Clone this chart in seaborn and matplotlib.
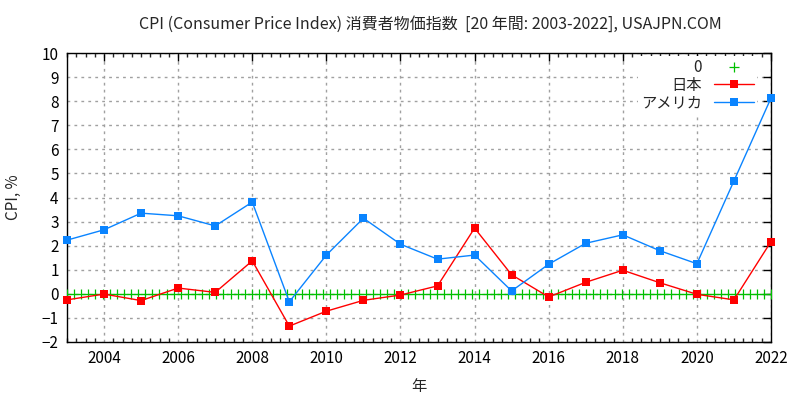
import numpy as np
import pandas as pd
import matplotlib
matplotlib.use("Agg")
import matplotlib.pyplot as plt
import seaborn as sns
from matplotlib.ticker import MultipleLocator

# data
years = list(range(2003, 2023))
japan_cpi = [-0.25, -0.01, -0.28, 0.24, 0.06, 1.37, -1.34, -0.72, -0.27, -0.05,
             0.33, 2.73, 0.79, -0.13, 0.48, 0.98, 0.46, -0.02, -0.25, 2.17]
usa_cpi = [2.23, 2.66, 3.35, 3.24, 2.82, 3.81, -0.33, 1.61, 3.14, 2.06,
           1.44, 1.61, 0.12, 1.23, 2.10, 2.45, 1.79, 1.25, 4.69, 8.13]
# the "0" reference function, sampled like gnuplot does (100 samples)
zero_x = np.linspace(2003, 2022, 100)
zero_y = np.zeros_like(zero_x)

series_names = ["日本", "アメリカ"]
title = "CPI (Consumer Price Index) 消費者物価指数  [20 年間: 2003-2022], USAJPN.COM"

sns.set_theme(style="white")
plt.rcParams["font.family"] = ["Noto Sans CJK JP", "DejaVu Sans"]
plt.rcParams["axes.unicode_minus"] = True

df = pd.DataFrame({
    "year": years * 2,
    "cpi": japan_cpi + usa_cpi,
    "country": [series_names[0]] * len(years) + [series_names[1]] * len(years),
})

fig = plt.figure(figsize=(8, 4), dpi=100)
ax = fig.add_axes([67 / 800, 1 - 342 / 400, (771 - 67) / 800, (342 - 53) / 400])

ax.plot(zero_x, zero_y, linestyle="none", marker="+", color="#00c000",
        markersize=7, markeredgewidth=0.9, label="0", zorder=3)
sns.lineplot(data=df, x="year", y="cpi", hue="country",
             palette={"日本": "#ff0000", "アメリカ": "#0a84ff"},
             marker="s", markersize=5.8, markeredgewidth=0, linewidth=1,
             ax=ax, zorder=4, legend=False)
for line, name in zip(ax.get_lines()[1:], series_names):
    line.set_label(name)
    line.set_clip_on(False)

ax.set_xlim(2003, 2022)
ax.set_ylim(-2, 10)
ax.xaxis.set_major_locator(MultipleLocator(2))
ax.xaxis.set_minor_locator(MultipleLocator(0.25))
ax.yaxis.set_major_locator(MultipleLocator(1))
ax.tick_params(axis="both", which="major", direction="in", length=6, width=1,
               top=True, right=True, labelsize=11, colors="black", pad=6)
ax.tick_params(axis="x", which="minor", direction="in", length=3, width=1,
               top=True, bottom=True)
ax.grid(True, which="major", color="#a0a0a0", linestyle=(0, (2, 3)), linewidth=1)
for s in ax.spines.values():
    s.set_color("black")
    s.set_linewidth(1)

ax.set_xlabel("年", fontsize=11, labelpad=8)
ax.set_ylabel("CPI, %", fontsize=11, labelpad=14)
fig.text(430 / 800, 1 - 24 / 400, title, ha="center", va="center", fontsize=11.5)

leg = ax.legend(loc="upper right", bbox_to_anchor=(0.980, 0.99), markerfirst=False,
                fontsize=11, frameon=True, fancybox=False, framealpha=1,
                edgecolor="none", facecolor="white", handlelength=2.6,
                handletextpad=0.8, labelspacing=0.05, borderpad=0.2,
                borderaxespad=0)
leg.set_zorder(10)

fig.savefig("out.png", dpi=100)
